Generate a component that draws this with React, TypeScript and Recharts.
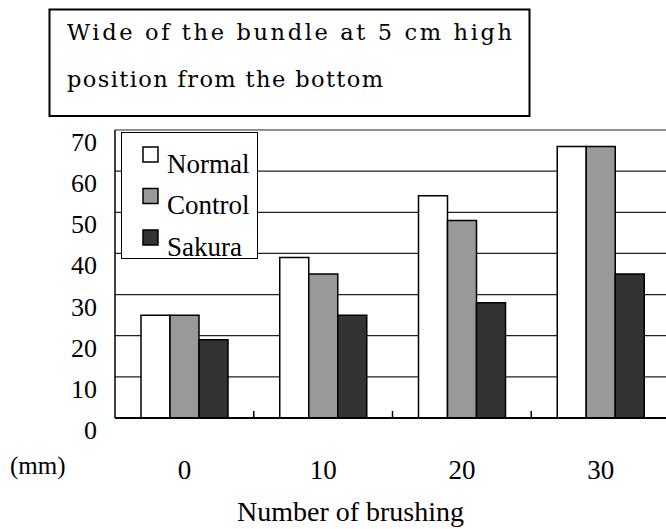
import { BarChart, Bar, XAxis, YAxis, CartesianGrid } from "recharts";

const categories = ["0", "10", "20", "30"];
const normalValues = [25, 39, 54, 66];
const controlValues = [25, 35, 48, 66];
const sakuraValues = [19, 25, 28, 35];
const yTicks = [0, 10, 20, 30, 40, 50, 60, 70];
const seriesNames = ["Normal", "Control", "Sakura"];
const seriesColors = ["#ffffff", "#999999", "#333333"];

const serif = "'Liberation Serif', 'Times New Roman', serif";
const titleFont = "'DejaVu Serif', serif";

const data = categories.map((c, i) => ({
  name: c,
  Normal: normalValues[i],
  Control: controlValues[i],
  Sakura: sakuraValues[i],
}));

function XTick(props: any) {
  const { x, y, payload } = props;
  const idx = payload.index ?? props.index;
  const off = payload.offset;
  return (
    <g>
      <text x={x} y={y + 61} textAnchor="middle" fontSize={27} fontFamily={serif} fill="#000">
        {payload.value}
      </text>
      {idx < categories.length - 1 && off ? (
        <line x1={x + off} x2={x + off} y1={y} y2={y - 7} stroke="#000" strokeWidth={1.5} />
      ) : null}
    </g>
  );
}

function YTick(props: any) {
  const { x, y, payload } = props;
  return (
    <text x={x - 18} y={y + 21} textAnchor="end" fontSize={26} fontFamily={serif} fill="#000">
      {payload.value}
    </text>
  );
}

// legend box drawn over the plot, top-left corner
function LegendBox() {
  return (
    <svg
      width={137}
      height={134}
      style={{ position: "absolute", left: 121, top: 132, pointerEvents: "none" }}
    >
      <rect x={0.5} y={0.5} width={136} height={126} fill="#fff" stroke="#000" strokeWidth={1} />
      {seriesNames.map((name, i) => (
        <g key={name}>
          <rect
            x={22}
            y={15 + i * 41.5}
            width={15}
            height={15}
            fill={seriesColors[i]}
            stroke="#000"
            strokeWidth={1.5}
          />
          <text x={46} y={40.6 + i * 41.5} fontSize={27} fontFamily={serif} fill="#000">
            {name}
          </text>
        </g>
      ))}
    </svg>
  );
}

export default function App() {
  return (
    <div
      style={{
        position: "fixed",
        left: 0,
        top: 0,
        width: 666,
        height: 529,
        overflow: "hidden",
        background: "#fff",
      }}
    >
      <BarChart
        width={670}
        height={529}
        data={data}
        margin={{ top: 130, right: 0, bottom: 0, left: 0 }}
        barGap={0}
      >
        <CartesianGrid vertical={false} stroke="#222" strokeWidth={1.2} />
        <XAxis
          dataKey="name"
          height={111}
          tickSize={0}
          tickMargin={0}
          tick={<XTick />}
          axisLine={{ stroke: "#000", strokeWidth: 2 }}
          tickLine={false}
          label={{
            value: "Number of brushing",
            position: "insideBottom",
            offset: 8,
            dx: -42,
            fontSize: 28,
            fontFamily: serif,
            fill: "#000",
          }}
        />
        <YAxis
          width={115}
          domain={[0, 70]}
          ticks={yTicks}
          tickSize={0}
          tickMargin={0}
          tick={<YTick />}
          axisLine={{ stroke: "#000", strokeWidth: 1.5 }}
          tickLine={false}
        />
        {seriesNames.map((name, i) => (
          <Bar
            key={name}
            dataKey={name}
            fill={seriesColors[i]}
            stroke="#000"
            strokeWidth={1.5}
            barSize={29}
            isAnimationActive={false}
          />
        ))}
      </BarChart>
      <LegendBox />
      <svg
        width={666}
        height={529}
        style={{ position: "absolute", left: 0, top: 0, pointerEvents: "none" }}
      >
        <rect x={49.5} y={9.5} width={480} height={106.5} fill="none" stroke="#000" strokeWidth={2} />
        <text
          x={67}
          y={39.5}
          textLength={445}
          lengthAdjust="spacing"
          fontSize={22.5}
          fontFamily={titleFont}
          fill="#000"
        >
          Wide of the bundle at 5 cm high
        </text>
        <text
          x={67}
          y={87}
          textLength={316}
          lengthAdjust="spacing"
          fontSize={22.5}
          fontFamily={titleFont}
          fill="#000"
        >
          position from the bottom
        </text>
        <text x={10} y={474} fontSize={25} fontFamily={serif} fill="#000">
          (mm)
        </text>
      </svg>
    </div>
  );
}
